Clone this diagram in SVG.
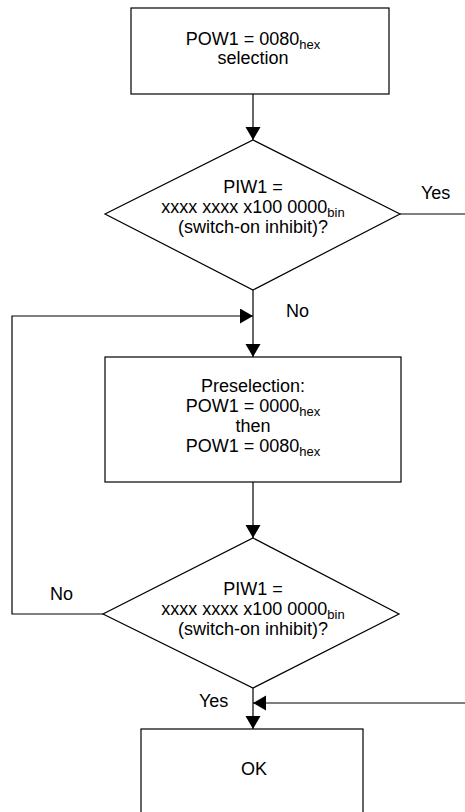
<svg xmlns="http://www.w3.org/2000/svg" width="465" height="812" viewBox="0 0 465 812">
  <style>
    .shape { fill: #ffffff; stroke: #000000; stroke-width: 1.2; }
    .wire { fill: none; stroke: #000000; stroke-width: 1.2; }
    text { font-family: "Liberation Sans", Arial, sans-serif; font-size: 18px; fill: #000000; }
    .c { text-anchor: middle; }
    .sub { font-size: 13px; }
  </style>
  <defs>
    <marker id="arrow" markerUnits="userSpaceOnUse" markerWidth="14" markerHeight="16" refX="13" refY="7.5" orient="auto">
      <path d="M0,0 L13,7.5 L0,15 Z" fill="#000000"/>
    </marker>
  </defs>

  <rect width="465" height="812" fill="#ffffff"/>

  <!-- connectors -->
  <g id="connectors">
    <line class="wire" x1="253" y1="94" x2="253" y2="140" marker-end="url(#arrow)"/>
    <line class="wire" x1="400" y1="214" x2="465" y2="214"/>
    <line class="wire" x1="253" y1="290" x2="253" y2="357" marker-end="url(#arrow)"/>
    <polyline class="wire" points="103,614 12,614 12,316 253,316" marker-end="url(#arrow)"/>
    <line class="wire" x1="253" y1="482" x2="253" y2="538" marker-end="url(#arrow)"/>
    <line class="wire" x1="253" y1="688" x2="253" y2="729" marker-end="url(#arrow)"/>
    <line class="wire" x1="465" y1="703" x2="253" y2="703" marker-end="url(#arrow)"/>
  </g>

  <!-- edge labels -->
  <g id="labels">
    <text x="421" y="199">Yes</text>
    <text x="286" y="317">No</text>
    <text x="50" y="600">No</text>
    <text x="199" y="707">Yes</text>
  </g>

  <!-- start: select word -->
  <g id="select">
    <rect class="shape" x="131" y="8" width="258" height="86"/>
    <text class="c" x="253" y="45">POW1 = 0080<tspan class="sub" dy="4">hex</tspan></text>
    <text class="c" x="253" y="64">selection</text>
  </g>

  <!-- first status check -->
  <g id="check1">
    <polygon class="shape" points="253,140 400,214 253,290 105,214"/>
    <text class="c" x="253" y="193">PIW1 =</text>
    <text class="c" x="253" y="213">xxxx xxxx x100 0000<tspan class="sub" dy="4">bin</tspan></text>
    <text class="c" x="253" y="233">(switch-on inhibit)?</text>
  </g>

  <!-- preselection -->
  <g id="preselect">
    <rect class="shape" x="105" y="357" width="296" height="125"/>
    <text class="c" x="253" y="392">Preselection:</text>
    <text class="c" x="253" y="412">POW1 = 0000<tspan class="sub" dy="4">hex</tspan></text>
    <text class="c" x="253" y="432">then</text>
    <text class="c" x="253" y="452">POW1 = 0080<tspan class="sub" dy="4">hex</tspan></text>
  </g>

  <!-- second status check -->
  <g id="check2">
    <polygon class="shape" points="253,538 399,614 253,688 103,614"/>
    <text class="c" x="253" y="595">PIW1 =</text>
    <text class="c" x="253" y="615">xxxx xxxx x100 0000<tspan class="sub" dy="4">bin</tspan></text>
    <text class="c" x="253" y="635">(switch-on inhibit)?</text>
  </g>

  <!-- result -->
  <g id="ok">
    <rect class="shape" x="141" y="729" width="222" height="100"/>
    <text class="c" x="254" y="775">OK</text>
  </g>
</svg>
